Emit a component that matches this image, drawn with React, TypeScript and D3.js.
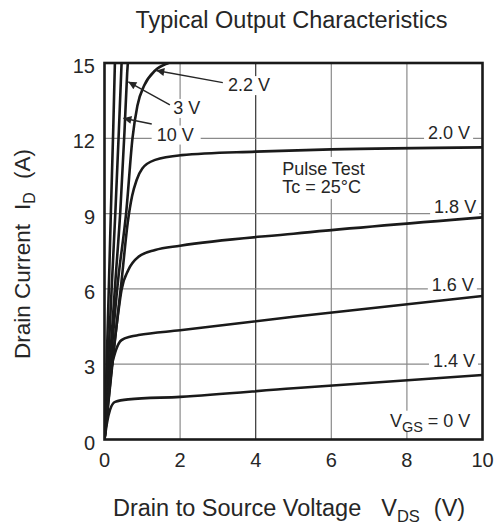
import React from "react";
import * as d3 from "d3";

type Pt = [number, number];

// Axis ticks
const X_TICKS = [0, 2, 4, 6, 8, 10];
const Y_TICKS = [0, 3, 6, 9, 12, 15];

// Curves: [V_DS (V), I_D (A)]
const vgsSteepest: Pt[] = [[0, 0], [0.12, 6.35], [0.17, 9.14], [0.23, 12.3], [0.28, 15.3]];
const vgs10V: Pt[] = [[0, 0], [0.2, 6.35], [0.29, 9.14], [0.38, 12.3], [0.46, 15.3]];
const vgs3V: Pt[] = [[0, 0], [0.29, 6.35], [0.42, 9.14], [0.53, 12.3], [0.6, 14.6], [0.63, 15.3]];
const vgs2p2V: Pt[] = [[0, 0], [0.36, 6.35], [0.58, 9.14], [0.74, 12.0], [0.87, 13.3], [1.05, 14.1], [1.34, 14.7], [1.69, 15.0], [2.2, 15.2]];
const vgs2p0V: Pt[] = [[0, 0], [0.25, 3.6], [0.45, 6.3], [0.62, 8.7], [0.73, 9.7], [0.85, 10.34], [1.0, 10.8], [1.34, 11.14], [2.04, 11.33], [4, 11.47], [6, 11.56], [10, 11.64]];
const vgs1p8V: Pt[] = [[0, 0], [0.2, 3.0], [0.35, 4.9], [0.45, 5.96], [0.63, 6.75], [0.9, 7.28], [1.34, 7.55], [2, 7.72], [5, 8.2], [10, 8.85]];
const vgs1p6V: Pt[] = [[0, 0], [0.1, 1.7], [0.19, 2.9], [0.3, 3.55], [0.45, 3.96], [0.7, 4.1], [0.9, 4.16], [2, 4.35], [5, 4.89], [10, 5.72]];
const vgs1p4V: Pt[] = [[0, 0], [0.07, 0.7], [0.145, 1.18], [0.28, 1.5], [0.63, 1.6], [2, 1.7], [5, 2.04], [10, 2.57]];

const CURVES: Pt[][] = [vgsSteepest, vgs10V, vgs3V, vgs2p2V, vgs2p0V, vgs1p8V, vgs1p6V, vgs1p4V];

// Right-side labels (text start in data units: V_DS, I_D baseline)
const SIDE_LABELS = ["2.0 V", "1.8 V", "1.6 V", "1.4 V"];
const SIDE_LABEL_POS: Pt[] = [[8.56, 11.97], [8.72, 9.01], [8.66, 5.93], [8.69, 2.89]];

// Arrow labels
const ARROW_LABELS = ["2.2 V", "3 V", "10 V"];
const ARROW_LABEL_POS: Pt[] = [[3.27, 13.88], [1.82, 12.97], [1.38, 11.91]];
const ARROW_FROM: Pt[] = [[3.13, 14.22], [1.73, 13.33], [1.25, 12.57]];
const ARROW_TO: Pt[] = [[1.37, 14.7], [0.63, 14.25], [0.5, 12.8]];

const NOTE_LINES = ["Pulse Test", "Tc = 25°C"];
const NOTE_POS: Pt[] = [[4.7, 10.54], [4.7, 9.82]];
const VGS_POS: Pt = [7.55, 0.51];

const FONT = '"Liberation Sans", Arial, Helvetica, sans-serif';
const INK = "#262626";

function textWidth(s: string, size: number): number {
  const c = document.createElement("canvas").getContext("2d");
  if (!c) return s.length * size * 0.55;
  c.font = `${size}px ${FONT}`;
  return c.measureText(s).width;
}

export default function App() {
  const W = 495;
  const H = 524;
  const left = 104.5, right = 482.5, top = 63, bottom = 439.5;
  const x = d3.scaleLinear().domain([0, 10]).range([left, right]);
  const y = d3.scaleLinear().domain([0, 15]).range([bottom, top]);
  const line = d3
    .line<Pt>()
    .x((d) => x(d[0]))
    .y((d) => y(d[1]))
    .curve(d3.curveMonotoneX);

  const labFs = 18;
  const subFs = 14.5;
  const vgsW = textWidth("V", labFs) + textWidth("GS", subFs) + textWidth(" = 0 V", labFs);

  const bgRects: { x: number; y: number; w: number; h: number }[] = [];
  SIDE_LABELS.forEach((t, i) => {
    const w = textWidth(t, labFs);
    bgRects.push({ x: x(SIDE_LABEL_POS[i][0]) - 4, y: y(SIDE_LABEL_POS[i][1]) - 14, w: w + 7, h: 17 });
  });
  ARROW_LABELS.forEach((t, i) => {
    const w = textWidth(t, labFs);
    bgRects.push({ x: x(ARROW_LABEL_POS[i][0]) - 5, y: y(ARROW_LABEL_POS[i][1]) - 15, w: w + 12, h: 19 });
  });
  {
    const w = Math.max(...NOTE_LINES.map((t) => textWidth(t, labFs)));
    bgRects.push({ x: x(NOTE_POS[0][0]) - 3, y: y(NOTE_POS[0][1]) - 18, w: w + 6, h: y(NOTE_POS[1][1]) - y(NOTE_POS[0][1]) + 24 });
  }
  bgRects.push({ x: x(VGS_POS[0]) - 3, y: y(VGS_POS[1]) - 16, w: vgsW + 6, h: 21 });

  return (
    <svg
      width={W}
      height={H}
      style={{ position: "absolute", left: 0, top: 0, background: "#fff" }}
      fontFamily={FONT}
    >
      <defs>
        <clipPath id="plotClip">
          <rect x={left} y={top} width={right - left} height={bottom - top} />
        </clipPath>
        <marker
          id="arrowHead"
          viewBox="0 0 10 10"
          refX={10}
          refY={5}
          markerWidth={13}
          markerHeight={8}
          markerUnits="userSpaceOnUse"
          orient="auto"
        >
          <path d="M0,0 L10,5 L0,10 z" fill={INK} />
        </marker>
      </defs>
      <rect x={0} y={0} width={W} height={H} fill="#fff" />

      {/* Title */}
      <text x={(left + right) / 2 - 2} y={28} textAnchor="middle" fontSize={23.5} fill={INK}>
        Typical Output Characteristics
      </text>

      {/* Grid */}
      <g>
        {X_TICKS.filter((t) => t > 0 && t < 10).map((t) => (
          <line
            key={"gx" + t}
            x1={x(t)}
            x2={x(t)}
            y1={top}
            y2={bottom}
            stroke={t === 4 ? "#333" : "#8a8a8a"}
            strokeWidth={1.2}
          />
        ))}
        {Y_TICKS.filter((t) => t > 0 && t < 15).map((t) => (
          <line key={"gy" + t} x1={left} x2={right} y1={y(t)} y2={y(t)} stroke="#8a8a8a" strokeWidth={1.2} />
        ))}
      </g>

      {/* Label backgrounds (break the grid) */}
      <g>
        {bgRects.map((r, i) => (
          <rect key={"bg" + i} x={r.x} y={r.y} width={r.w} height={r.h} fill="#fff" />
        ))}
      </g>

      {/* Curves */}
      <g clipPath="url(#plotClip)">
        {CURVES.map((c, i) => (
          <path
            key={"c" + i}
            d={line(c) || ""}
            fill="none"
            stroke="#1a1a1a"
            strokeWidth={2.6}
            strokeLinejoin="round"
            strokeLinecap="round"
          />
        ))}
      </g>

      {/* Arrows */}
      <g>
        {ARROW_FROM.map((f, i) => (
          <line
            key={"ar" + i}
            x1={x(f[0])}
            y1={y(f[1])}
            x2={x(ARROW_TO[i][0])}
            y2={y(ARROW_TO[i][1])}
            stroke={INK}
            strokeWidth={1.4}
            markerEnd="url(#arrowHead)"
          />
        ))}
      </g>

      {/* Labels */}
      <g fontSize={labFs} fill={INK}>
        {SIDE_LABELS.map((t, i) => (
          <text key={"sl" + i} x={x(SIDE_LABEL_POS[i][0])} y={y(SIDE_LABEL_POS[i][1])}>
            {t}
          </text>
        ))}
        {ARROW_LABELS.map((t, i) => (
          <text key={"al" + i} x={x(ARROW_LABEL_POS[i][0])} y={y(ARROW_LABEL_POS[i][1])}>
            {t}
          </text>
        ))}
        {NOTE_LINES.map((t, i) => (
          <text key={"nl" + i} x={x(NOTE_POS[i][0])} y={y(NOTE_POS[i][1])}>
            {t}
          </text>
        ))}
        <text x={x(VGS_POS[0])} y={y(VGS_POS[1])}>
          V
          <tspan fontSize={subFs} dy={5}>
            GS
          </tspan>
          <tspan dy={-5}>{" = 0 V"}</tspan>
        </text>
      </g>

      {/* Frame */}
      <rect x={left} y={top} width={right - left} height={bottom - top} fill="none" stroke="#1a1a1a" strokeWidth={2.6} />

      {/* Tick labels */}
      <g fontSize={20} fill={INK}>
        {Y_TICKS.map((t) => (
          <text key={"yt" + t} x={left - 9.5} y={y(t) + 10} textAnchor="end">
            {t}
          </text>
        ))}
        {X_TICKS.map((t) => (
          <text key={"xt" + t} x={x(t)} y={bottom + 27.5} textAnchor="middle">
            {t}
          </text>
        ))}
      </g>

      {/* Axis titles */}
      <text x={113} y={516} fontSize={23.5} fill={INK}>
        Drain to Source Voltage
        <tspan dx={20}>V</tspan>
        <tspan fontSize={16.5} dy={6}>
          DS
        </tspan>
        <tspan dx={14} dy={-6}>
          (V)
        </tspan>
      </text>
      <text
        transform={`translate(30, 254) rotate(-90)`}
        textAnchor="middle"
        fontSize={22.5}
        fill={INK}
      >
        Drain Current
        <tspan dx={14}>I</tspan>
        <tspan fontSize={16} dy={5}>
          D
        </tspan>
        <tspan dx={13} dy={-5}>
          (A)
        </tspan>
      </text>
    </svg>
  );
}
